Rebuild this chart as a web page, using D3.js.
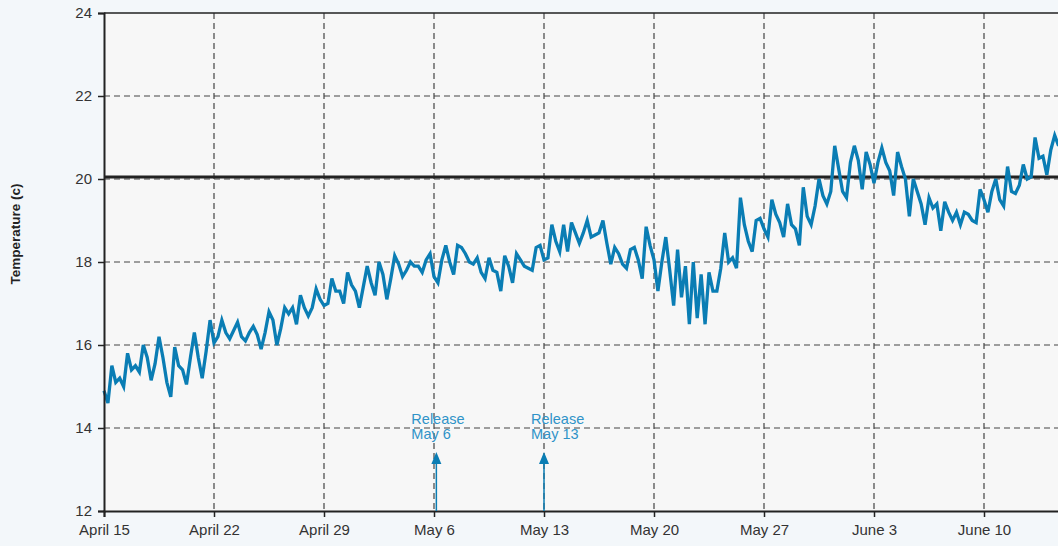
<!DOCTYPE html>
<html>
<head>
<meta charset="utf-8">
<script src="https://cdn.jsdelivr.net/npm/d3@7"></script>
<style>
  body { margin: 0; background: #f3f7fa; }
  svg { display: block; font-family: "Liberation Sans", Arial, sans-serif; }
</style>
</head>
<body>
<script>
// readings every 6 hours starting April 15, 00:00
const startDate = Date.UTC(2019, 3, 15);
const temps = [
  14.9, 14.6, 15.5, 15.1,
  15.2, 15.0, 15.8, 15.4,
  15.5, 15.35, 16.0, 15.7,
  15.15, 15.55, 16.2, 15.7,
  15.1, 14.75, 15.95, 15.5,
  15.4, 15.05, 15.7, 16.3,
  15.7, 15.2, 15.85, 16.6,
  16.05, 16.2, 16.6, 16.3,
  16.15, 16.35, 16.55, 16.2,
  16.1, 16.3, 16.45, 16.25,
  15.9, 16.3, 16.8, 16.6,
  16.0, 16.4, 16.9, 16.75,
  16.9, 16.5, 17.2, 16.9,
  16.7, 16.9, 17.35, 17.1,
  16.95, 17.0, 17.6, 17.3,
  17.3, 17.0, 17.75, 17.45,
  17.3, 16.9, 17.4, 17.9,
  17.5, 17.2, 18.0, 17.7,
  17.1, 17.6, 18.15, 17.95,
  17.65, 17.8, 18.0, 17.9,
  17.9, 17.75, 18.05, 18.2,
  17.65, 17.5, 18.05, 18.4,
  18.0, 17.7, 18.4, 18.35,
  18.2, 18.0, 17.95, 18.1,
  17.75, 17.6, 18.1, 17.8,
  17.75, 17.3, 18.15, 17.9,
  17.5, 18.2, 18.05, 17.9,
  17.85, 17.8, 18.35, 18.4,
  18.05, 18.1, 18.9, 18.5,
  18.25, 18.9, 18.25, 18.95,
  18.7, 18.45, 18.7, 19.0,
  18.6, 18.65, 18.7, 19.0,
  18.45, 17.95, 18.35, 18.2,
  17.95, 17.85, 18.3, 18.35,
  18.05, 17.6, 18.85, 18.4,
  18.05, 17.3, 18.0, 18.6,
  17.8, 16.95, 18.3, 17.15,
  17.9, 16.5, 18.0, 16.65,
  17.7, 16.5, 17.75, 17.3,
  17.3, 17.85, 18.7, 18.0,
  18.1, 17.85, 19.55, 18.9,
  18.5, 18.25, 19.0, 19.05,
  18.8, 18.6, 19.5, 19.15,
  18.95, 18.6, 19.4, 18.9,
  18.8, 18.4, 19.8, 19.1,
  18.9, 19.35, 20.0, 19.6,
  19.4, 19.7, 20.8, 20.25,
  19.7, 19.55, 20.4, 20.8,
  20.45, 19.75, 20.65, 20.35,
  19.9, 20.4, 20.75, 20.4,
  20.2, 19.6, 20.65, 20.3,
  20.0, 19.1, 20.0, 19.7,
  19.4, 18.9, 19.55, 19.3,
  19.4, 18.75, 19.45, 19.2,
  19.0, 19.2, 18.9, 19.2,
  19.15, 19.0, 18.95, 19.75,
  19.5, 19.2, 19.7, 20.0,
  19.5, 19.35, 20.3, 19.7,
  19.65, 19.85, 20.35, 20.0,
  20.05, 21.0, 20.5, 20.55,
  20.1, 20.7, 21.05, 20.8
];

const xTickDays = [0, 7, 14, 21, 28, 35, 42, 49, 56];
const xTickLabels = ["April 15", "April 22", "April 29", "May 6", "May 13", "May 20", "May 27", "June 3", "June 10"];
const yTicks = [12, 14, 16, 18, 20, 22, 24];
const threshold = 20.05;

// release days offset from April 15, with labels
const releaseDays = [21.15, 28];
const releaseLabels = [["Release", "May 6"], ["Release", "May 13"]];

const dayMs = 86400000;
const data = temps.map((t, i) => ({ date: new Date(startDate + i * dayMs / 4), temp: t }));

const width = 1058, height = 546;
const margin = { top: 13, left: 104, bottom: 35 };

const svg = d3.select("body").append("svg")
  .attr("width", width)
  .attr("height", height);

const x = d3.scaleUtc()
  .domain([new Date(startDate), new Date(startDate + 61 * dayMs)])
  .range([margin.left, margin.left + 61 * 110 / 7]);

const y = d3.scaleLinear()
  .domain([12, 24])
  .range([height - margin.bottom, margin.top]);

// plot background
svg.append("rect")
  .attr("x", x.range()[0])
  .attr("y", y(24))
  .attr("width", x.range()[1] - x.range()[0])
  .attr("height", y(12) - y(24))
  .attr("fill", "#f7f7f7");

// grid
svg.append("g").selectAll("line")
  .data(yTicks.slice(1, -1))
  .join("line")
  .attr("x1", x.range()[0]).attr("x2", x.range()[1])
  .attr("y1", d => y(d)).attr("y2", d => y(d))
  .attr("stroke", "#444").attr("stroke-width", 1.2)
  .attr("stroke-dasharray", "6,4");

svg.append("g").selectAll("line")
  .data(xTickDays.slice(1))
  .join("line")
  .attr("x1", d => x(new Date(startDate + d * dayMs)))
  .attr("x2", d => x(new Date(startDate + d * dayMs)))
  .attr("y1", y(24)).attr("y2", y(12))
  .attr("stroke", "#444").attr("stroke-width", 1.2)
  .attr("stroke-dasharray", "6,4");

// threshold line
svg.append("line")
  .attr("x1", x.range()[0]).attr("x2", x.range()[1])
  .attr("y1", y(threshold)).attr("y2", y(threshold))
  .attr("stroke", "#222").attr("stroke-width", 3);

// temperature line
const line = d3.line()
  .x(d => x(d.date))
  .y(d => y(d.temp));

svg.append("path")
  .datum(data)
  .attr("fill", "none")
  .attr("stroke", "#0a7db4")
  .attr("stroke-width", 3.3)
  .attr("stroke-linejoin", "miter")
  .attr("d", line);

// top border
svg.append("line")
  .attr("x1", x.range()[0]).attr("x2", x.range()[1])
  .attr("y1", y(24)).attr("y2", y(24))
  .attr("stroke", "#222").attr("stroke-width", 1.5);

// axes
const yAxis = svg.append("g")
  .attr("transform", `translate(${margin.left},0)`)
  .call(d3.axisLeft(y).tickValues(yTicks).tickSize(6).tickPadding(6));

const xAxis = svg.append("g")
  .attr("transform", `translate(0,${y(12)})`)
  .call(d3.axisBottom(x)
    .tickValues(xTickDays.map(d => new Date(startDate + d * dayMs)))
    .tickFormat((d, i) => xTickLabels[i])
    .tickSize(6).tickPadding(7));

[yAxis, xAxis].forEach(g => {
  g.select(".domain").attr("stroke", "#222").attr("stroke-width", 2);
  g.selectAll(".tick line").attr("stroke", "#222").attr("stroke-width", 1.5);
  g.selectAll(".tick text").attr("fill", "#333").style("font-size", "15px");
});

// release annotations
const rel = svg.append("g").selectAll("g")
  .data(releaseDays)
  .join("g")
  .attr("transform", d => `translate(${x(new Date(startDate + d * dayMs))},0)`);

rel.append("line")
  .attr("x1", 0).attr("x2", 0)
  .attr("y1", y(12)).attr("y2", y(12) - 50)
  .attr("stroke", "#0a7db4").attr("stroke-width", 1.5);

rel.append("path")
  .attr("d", `M-5,${y(12) - 47} L0,${y(12) - 59} L5,${y(12) - 47} Z`)
  .attr("fill", "#0a7db4");

// two separate text lines per release
rel.each(function (d, i) {
  d3.select(this).selectAll("text")
    .data(releaseLabels[i])
    .join("text")
    .attr("x", i === 0 ? -25 : -13)
    .attr("y", (t, j) => y(12) - 87 + j * 15)
    .attr("fill", "#2f93c8")
    .style("font-size", "14.5px")
    .text(t => t);
});

// y axis title
svg.append("text")
  .attr("transform", `translate(20,${(y(12) + y(24)) / 2 - 28}) rotate(-90)`)
  .attr("text-anchor", "middle")
  .attr("fill", "#222")
  .style("font-size", "13.5px")
  .style("font-weight", "bold")
  .text("Temperature (c)");
</script>
</body>
</html>
